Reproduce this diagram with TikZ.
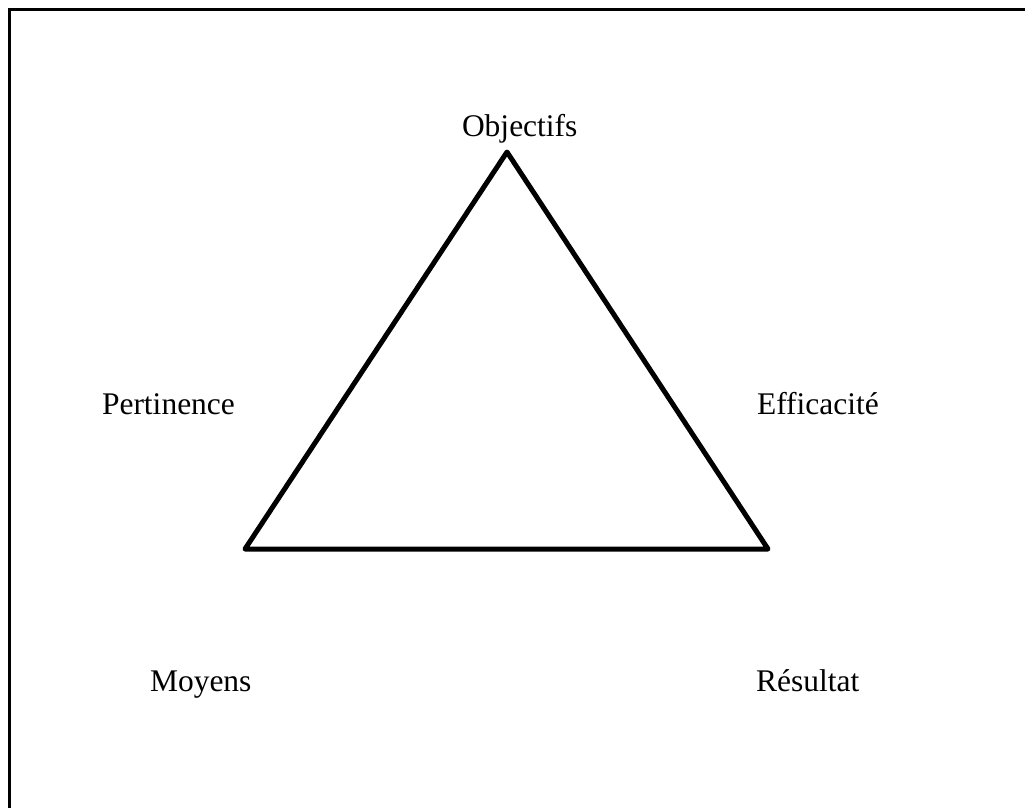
\documentclass[tikz,border=0pt]{standalone}
\usepackage{fontspec}
\setmainfont{Liberation Serif}
\begin{document}
\begin{tikzpicture}[x=1pt, y=-1pt,
  label/.style={anchor=base west, inner sep=0pt, outer sep=0pt, font=\fontsize{31.5}{38}\selectfont},
  edge/.style={line width=5pt, line join=round, line cap=round},
  frame/.style={line width=2.5pt}]
  \useasboundingbox (0,0) rectangle (1025,808);
  % outer frame (open to the right and bottom)
  \draw[frame] (9.5,830) -- (9.5,9.5) -- (1040,9.5);
  % triangle corners
  \coordinate (top) at (507,152);
  \coordinate (bl) at (245,549);
  \coordinate (br) at (768,549);
  \draw[edge] (top) -- (bl) -- (br) -- cycle;
  % labels
  \node[label] (obj) at (462,136) {Objectifs};
  \node[label] (per) at (102,414) {Pertinence};
  \node[label] (eff) at (757,414) {Efficacité};
  \node[label] (moy) at (150,691) {Moyens};
  \node[label] (res) at (756,691) {Résultat};
\end{tikzpicture}
\end{document}
